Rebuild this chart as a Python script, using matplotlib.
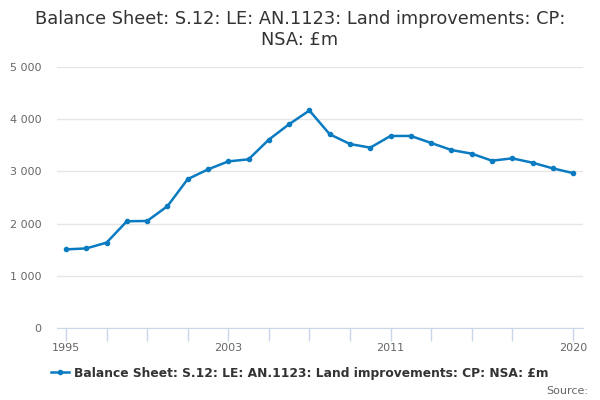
import matplotlib
matplotlib.use("Agg")
import matplotlib.pyplot as plt
from matplotlib.lines import Line2D

years = list(range(1995, 2021))
values = [1506, 1525, 1635, 2045, 2050, 2333, 2852, 3038, 3192, 3231,
          3609, 3904, 4167, 3712, 3525, 3455, 3679, 3679, 3545, 3410,
          3340, 3205, 3250, 3167, 3058, 2968]
y_ticks = [0, 1000, 2000, 3000, 4000, 5000]
y_tick_labels = ["0", "1 000", "2 000", "3 000", "4 000", "5 000"]
x_tick_positions = [1995, 1997, 1999, 2001, 2003, 2005, 2007, 2009, 2011, 2013, 2015, 2017, 2020]
x_labels = {1995: "1995", 2003: "2003", 2011: "2011", 2020: "2020"}
title = "Balance Sheet: S.12: LE: AN.1123: Land improvements: CP:\nNSA: £m"
series_name = "Balance Sheet: S.12: LE: AN.1123: Land improvements: CP: NSA: £m"

color = "#0a7bc1"
fig = plt.figure(figsize=(6, 4), dpi=100)
ax = fig.add_axes([0.095, 0.18, 0.8767, 0.6525])
ax.plot(years, values, color=color, lw=1.8, marker="o", ms=3, zorder=3)
ax.set_xlim(1994.556, 2020.49)
ax.set_ylim(0, 5000)
ax.set_yticks(y_ticks)
ax.set_yticklabels(y_tick_labels)
ax.set_xticks(x_tick_positions)
ax.set_xticklabels([x_labels.get(t, "") for t in x_tick_positions])
ax.grid(axis="y", color="#e6e6e6", lw=1)
ax.set_axisbelow(True)
for s in ["top", "right", "left"]:
    ax.spines[s].set_visible(False)
ax.spines["bottom"].set_color("#ccd6eb")
ax.tick_params(axis="x", colors="#ccd6eb", length=9, width=1, labelcolor="#666666", labelsize=8, pad=2)
ax.tick_params(axis="y", length=0, labelcolor="#666666", labelsize=8, pad=11)

fig.text(0.5, 0.975, title, ha="center", va="top", fontsize=12.8, color="#333333", linespacing=1.2)

h = Line2D([], [], color=color, lw=1.8, marker="o", ms=3)
fig.legend([h], [series_name], loc="center", bbox_to_anchor=(0.5, 0.067), frameon=False,
           prop={"weight": "bold", "size": 8.8}, labelcolor="#333333", handlelength=1.4, handletextpad=0.45)
fig.text(0.98, 0.022, "Source:", ha="right", va="center", fontsize=8, color="#666666")

fig.savefig("out.png", dpi=100)
